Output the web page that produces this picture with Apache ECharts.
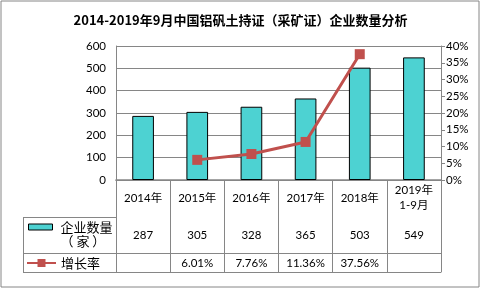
<!DOCTYPE html>
<html>
<head>
<meta charset="utf-8">
<style>html,body{margin:0;padding:0;background:#fff}#c{width:481px;height:289px}</style>
<script src="https://cdn.jsdelivr.net/npm/echarts@6/dist/echarts.min.js"></script>
</head>
<body>
<div id="c"></div>
<script>
var categories = ['2014年', '2015年', '2016年', '2017年', '2018年', '2019年\n1-9月'];
var companyCounts = [287, 305, 328, 365, 503, 549];
var growthRates = [null, 6.01, 7.76, 11.36, 37.56, null];
var leftTicks = [0, 600, 100];
var rightTicks = [0, 40, 5];

var gray = '#868686';
var font = 'Noto Sans CJK SC';
var numFont = 'Lato, Noto Sans CJK SC, sans-serif';
var chart = echarts.init(document.getElementById('c'));
var growthLabels = growthRates.map(function (v) { return v == null ? '' : v.toFixed(2) + '%'; });
var countLabels = companyCounts.map(String);

function tableAxis(data, offset, margin, showLabel) {
  return {
    type: 'category', data: data, gridIndex: 0, position: 'bottom', offset: offset,
    axisLine: { show: true, lineStyle: { color: gray, width: 1 } },
    axisTick: { show: false },
    axisLabel: { show: showLabel, interval: 0, margin: margin, verticalAlign: 'middle', color: '#000', fontSize: 11.5, fontFamily: numFont },
    splitLine: { show: false }
  };
}

chart.setOption({
  animation: false,
  textStyle: { fontFamily: font },
  title: {
    text: '2014-2019年9月中国铝矾土持证（采矿证）企业数量分析',
    left: 'center', top: 9,
    textStyle: { fontSize: 13, fontWeight: 'bold', color: '#000', fontFamily: font }
  },
  grid: { left: 116, right: 40, top: 46, bottom: 109 },
  legend: [
    {
      data: [{ name: '企业数量（家）', icon: 'rect', itemStyle: { borderColor: '#000', borderWidth: 1 } }],
      left: 28, top: 206, padding: 0, orient: 'vertical',
      itemWidth: 24, itemHeight: 6,
      formatter: function () { return '\n企业数量\n{b|（ 家 ）}'; },
      textStyle: { color: '#000', fontSize: 13, lineHeight: 14, fontFamily: font, padding: [0, 0, 0, 3],
        rich: { b: { fontSize: 13, lineHeight: 14, fontFamily: font, color: '#000' } } }
    },
    {
      data: ['增长率'], left: 26, top: 255, padding: 0, orient: 'vertical',
      itemWidth: 29, itemHeight: 10,
      textStyle: { color: '#000', fontSize: 13, lineHeight: 16, fontFamily: font }
    }
  ],
  xAxis: [
    {
      type: 'category', data: categories, gridIndex: 0, position: 'bottom',
      axisLine: { show: true, lineStyle: { color: gray, width: 1.5 } },
      axisTick: { show: true, interval: 0, length: 92, lineStyle: { color: gray } },
      axisLabel: { interval: 0, margin: 18, verticalAlign: 'middle', lineHeight: 15, color: '#000', fontSize: 11.5, fontFamily: numFont }
    },
    tableAxis(countLabels, 37, 18, true),
    tableAxis(growthLabels, 73, 10, true),
    tableAxis(categories, 92, 10, false)
  ],
  yAxis: [
    {
      type: 'value', min: leftTicks[0], max: leftTicks[1], interval: leftTicks[2],
      axisLine: { show: true, lineStyle: { color: gray } },
      axisTick: { show: false },
      splitLine: { lineStyle: { color: gray } },
      axisLabel: { margin: 10, color: '#000', fontSize: 11.5, fontFamily: numFont }
    },
    {
      type: 'value', min: rightTicks[0], max: rightTicks[1], interval: rightTicks[2], position: 'right',
      axisLine: { show: true, lineStyle: { color: gray } },
      axisTick: { show: true, length: 4, lineStyle: { color: gray } },
      splitLine: { show: false },
      axisLabel: { margin: 5, formatter: '{value}%', color: '#000', fontSize: 11.5, fontFamily: numFont }
    }
  ],
  series: [
    {
      name: '企业数量（家）', type: 'bar', data: companyCounts, barWidth: '40%',
      xAxisIndex: 0, yAxisIndex: 0,
      itemStyle: { color: '#4DD2D2', borderColor: '#000', borderWidth: 1 }
    },
    {
      name: '增长率', type: 'line', data: growthRates, xAxisIndex: 0, yAxisIndex: 1,
      symbol: 'rect', symbolSize: 10, connectNulls: false,
      lineStyle: { color: '#C0504D', width: 3 },
      itemStyle: { color: '#C0504D' }
    }
  ],
  graphic: [
    { type: 'rect', shape: { x: 1, y: 1, width: 478, height: 286 }, style: { fill: 'none', stroke: gray, lineWidth: 1 }, silent: true },
    { type: 'line', shape: { x1: 23, y1: 217.5, x2: 116, y2: 217.5 }, style: { stroke: gray, lineWidth: 1 } },
    { type: 'line', shape: { x1: 23, y1: 253.5, x2: 116, y2: 253.5 }, style: { stroke: gray, lineWidth: 1 } },
    { type: 'line', shape: { x1: 23, y1: 272.5, x2: 116, y2: 272.5 }, style: { stroke: gray, lineWidth: 1 } },
    { type: 'line', shape: { x1: 23.5, y1: 217, x2: 23.5, y2: 273 }, style: { stroke: gray, lineWidth: 1 } }
  ]
});
</script>
</body>
</html>
